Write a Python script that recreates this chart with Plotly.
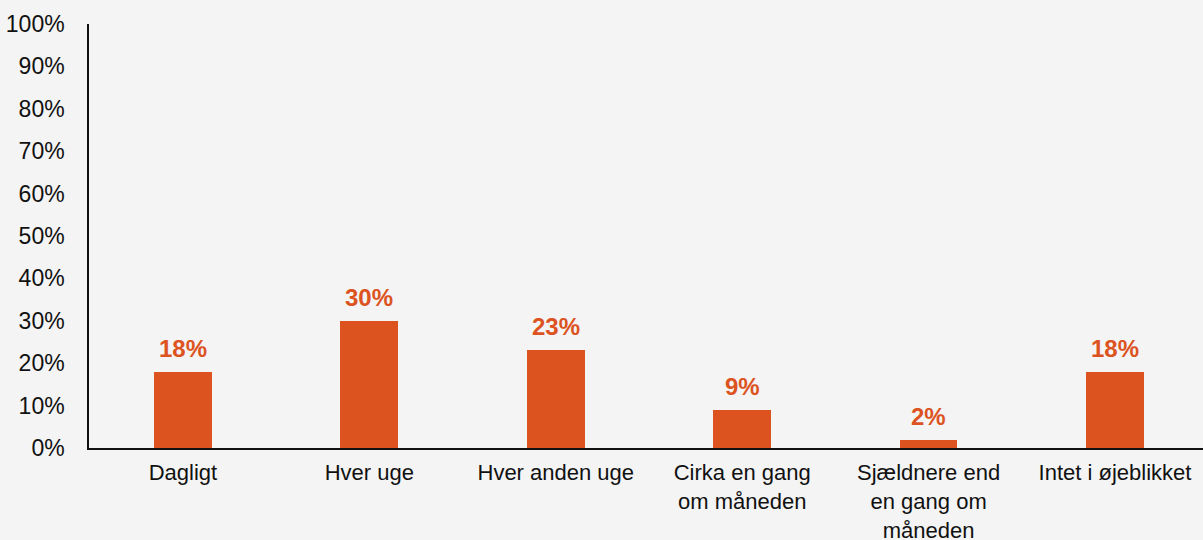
import plotly.graph_objects as go

categories = ["Dagligt", "Hver uge", "Hver anden uge", "Cirka en gang<br>om måneden",
              "Sjældnere end<br>en gang om<br>måneden", "Intet i øjeblikket"]
values = [18, 30, 23, 9, 2, 18]
tick_vals = [0, 10, 20, 30, 40, 50, 60, 70, 80, 90, 100]
tick_text = [f"{v}%" for v in tick_vals]

bar_color = "#DC531F"
bg = "#F4F4F4"
font_family = "Liberation Sans, Arial, sans-serif"

fig = go.Figure()
fig.add_trace(go.Bar(
    x=list(range(len(categories))), y=values,
    marker=dict(color=bar_color, line=dict(width=0)),
    width=0.31, hoverinfo="skip",
))

for i, v in enumerate(values):
    fig.add_annotation(x=i, y=v, text=f"<b>{v}%</b>", showarrow=False,
                       yanchor="bottom", yshift=8,
                       font=dict(size=24, color=bar_color, family=font_family))

fig.update_layout(
    width=1203, height=540,
    margin=dict(l=89, r=0, t=24, b=92, autoexpand=False),
    paper_bgcolor=bg, plot_bgcolor=bg,
    showlegend=False,
    font=dict(family=font_family, size=23, color="#111111"),
    bargap=0,
)
fig.update_xaxes(
    tickmode="array", tickvals=list(range(len(categories))), ticktext=categories,
    range=[-0.504, 5.472], showgrid=False, zeroline=False, automargin=False,
    showline=True, linecolor="#111111", linewidth=2,
    ticks="outside", ticklen=4, tickcolor=bg,
    tickfont=dict(size=22, color="#111111"),
)
fig.update_yaxes(
    range=[0, 100], tickmode="array", tickvals=tick_vals, ticktext=tick_text,
    showgrid=False, zeroline=False, automargin=False,
    showline=True, linecolor="#111111", linewidth=1.5,
    ticks="outside", ticklen=18, tickcolor=bg,
    tickfont=dict(size=23, color="#111111"),
)

fig.write_html("out.html", config={"displayModeBar": False},
               post_script="document.body.style.margin='0';document.body.style.background='#F4F4F4';")
